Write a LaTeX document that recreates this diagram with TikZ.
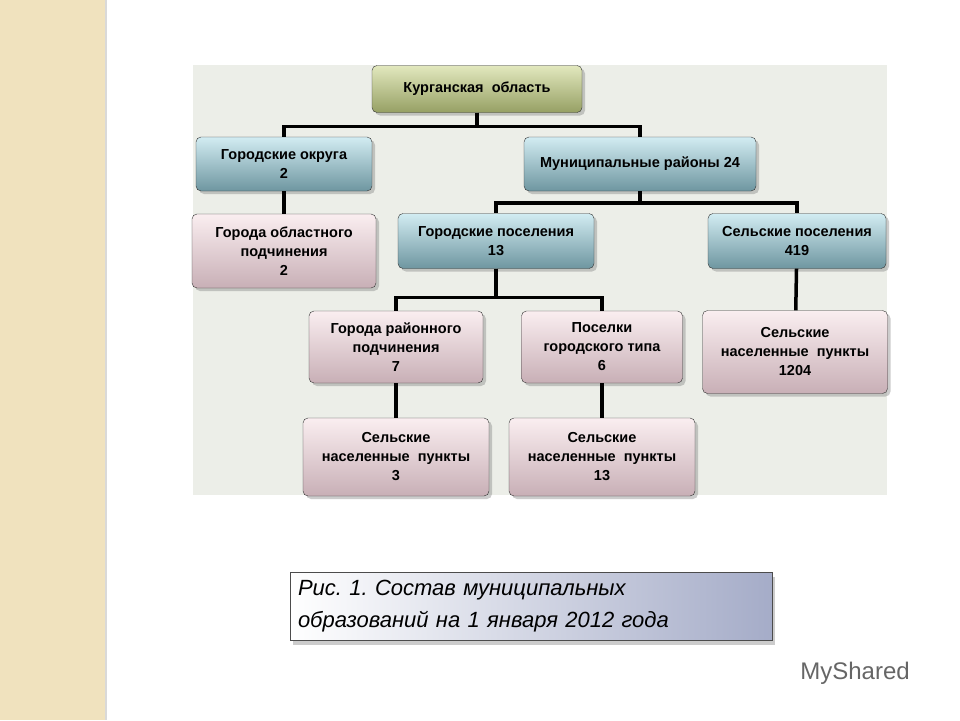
\documentclass[tikz,border=0pt]{standalone}
\usepackage{fontspec}
\setmainfont{Liberation Sans}
\usetikzlibrary{shadows}
\frenchspacing
\definecolor{beige}{RGB}{240,226,190}
\definecolor{panel}{RGB}{236,238,232}
\definecolor{oliveT}{RGB}{226,232,190}
\definecolor{oliveB}{RGB}{150,160,100}
\definecolor{blueT}{RGB}{210,236,242}
\definecolor{blueB}{RGB}{110,150,160}
\definecolor{pinkT}{RGB}{250,238,240}
\definecolor{pinkB}{RGB}{200,175,182}
\definecolor{capR}{RGB}{165,172,200}
\tikzset{
%box styles
unit/.style={draw=black!80, rounded corners=5pt, align=center, font=\bfseries\fontsize{14.5}{19}\selectfont,
  drop shadow={shadow xshift=3pt, shadow yshift=-3pt, opacity=0.4}, inner sep=2pt},
top/.style={unit, top color=oliveT, bottom color=oliveB},
mid/.style={unit, top color=blueT, bottom color=blueB},
low/.style={unit, top color=pinkT, bottom color=pinkB},
link/.style={line width=3.5pt, black},
}
\begin{document}
\begin{tikzpicture}[x=1pt,y=-1pt]
\useasboundingbox (0,0) rectangle (960,720);
\fill[white] (0,0) rectangle (960,720);
\fill[beige] (0,0) rectangle (105,720);
\draw[black!15, line width=2pt] (106,0) -- (106,720);
\fill[panel] (193,65) rectangle (887,495);

% nodes
\node[top, minimum width=210, minimum height=47] (obl) at (477,89) {Курганская\ \ область};
\node[mid, minimum width=176, minimum height=54] (okr) at (284,164) {Городские округа\\2};
\node[mid, minimum width=232, minimum height=54] (mr) at (640,164) {Муниципальные районы 24};
\node[low, minimum width=184, minimum height=74] (gop) at (284,251) {Города областного\\подчинения\\2};
\node[mid, minimum width=196, minimum height=55] (gp) at (496,241) {Городские поселения\\13};
\node[mid, minimum width=178, minimum height=55] (sp) at (797,241) {Сельские поселения\\419};
\node[low, minimum width=174, minimum height=72] (grp) at (396,347) {Города районного\\подчинения\\7};
\node[low, minimum width=161, minimum height=72] (pgt) at (602,347) {Поселки\\городского типа\\6};
\node[low, minimum width=185, minimum height=83] (snp1) at (795,352) {Сельские\\населенные\ \ пункты\\1204};
\node[low, minimum width=186, minimum height=78] (snp2) at (396,457) {Сельские\\населенные\ \ пункты\\3};
\node[low, minimum width=186, minimum height=78] (snp3) at (602,457) {Сельские\\населенные\ \ пункты\\13};

% connectors
\draw[link] (obl.south) -- ++(0,14) -| (okr.north);
\draw[link] (obl.south) -- ++(0,14) -| (mr.north);
\draw[link] (mr.south) -- ++(0,12) -| (gp.north);
\draw[link] (mr.south) -- ++(0,12) -| (sp.north);
\draw[link] (gp.south) -- ++(0,29) -| (grp.north);
\draw[link] (gp.south) -- ++(0,29) -| (pgt.north);
\draw[link] (okr) -- (gop);
\draw[link] (sp) -- (snp1);
\draw[link] (grp) -- (snp2);
\draw[link] (pgt) -- (snp3);

% caption
\node[draw=black!70, left color=white, right color=capR, drop shadow={shadow xshift=3pt, shadow yshift=-5pt, opacity=0.4},
  minimum width=482, minimum height=68, align=left, text width=466, font=\itshape\fontsize{22}{32}\selectfont] (cap) at (531,606)
  {Рис. 1. Состав муниципальных\\образований на 1 января 2012 года};
\node[text=black!60, font=\fontsize{24}{28}\selectfont] (logo) at (855,673) {MyShared};
\end{tikzpicture}
\end{document}
